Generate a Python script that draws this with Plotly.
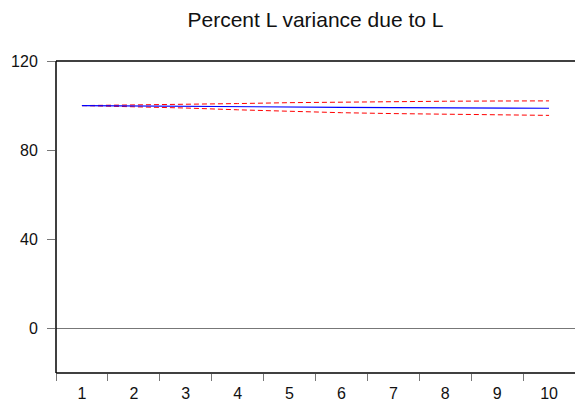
import plotly.graph_objects as go

periods = [1, 2, 3, 4, 5, 6, 7, 8, 9, 10]
point_est = [100, 99.9, 99.75, 99.55, 99.35, 99.2, 99.05, 98.95, 98.85, 98.8]
upper_band = [100, 100.2, 100.5, 100.9, 101.3, 101.6, 101.8, 101.95, 102.05, 102.1]
lower_band = [100, 99.6, 98.9, 98.1, 97.4, 96.8, 96.4, 96.1, 95.85, 95.6]
y_ticks = [0, 40, 80, 120]
title_text = "Percent L variance due to L"

fig = go.Figure()
fig.add_trace(go.Scatter(x=periods, y=upper_band, mode="lines",
                         line=dict(color="#FF0000", width=1, dash="5px,3px"), showlegend=False))
fig.add_trace(go.Scatter(x=periods, y=lower_band, mode="lines",
                         line=dict(color="#FF0000", width=1, dash="5px,3px"), showlegend=False))
fig.add_trace(go.Scatter(x=periods, y=point_est, mode="lines",
                         line=dict(color="#0000FF", width=1.2), showlegend=False))

fig.update_layout(
    width=575, height=405,
    margin=dict(l=56, r=0, t=61, b=32),
    paper_bgcolor="white", plot_bgcolor="white",
    font=dict(family="Liberation Sans, Arial, sans-serif", size=16, color="#111111"),
    title=dict(text=title_text, x=(56 + 575) / 2 / 575, xanchor="center",
               y=1 - 20 / 405, yanchor="middle", font=dict(size=21)),
    xaxis=dict(range=[0.5, 10.5], tickvals=periods, ticks="", automargin=False,
               minor=dict(tick0=0.5, dtick=1, ticks="outside", ticklen=7,
                          tickcolor="#777777", tickwidth=1, showgrid=False),
               showline=False, showgrid=False, zeroline=False, ticklabelstandoff=9),
    yaxis=dict(range=[-20, 120], tickvals=y_ticks, automargin=False,
               ticks="outside", ticklen=8, tickcolor="#777777", tickwidth=1,
               showline=False, showgrid=False, zeroline=True, zerolinecolor="#777777",
               zerolinewidth=1, ticklabelstandoff=6),
    shapes=[
        dict(type="line", xref="paper", yref="paper", x0=0, x1=1, y0=1, y1=1,
             line=dict(color="black", width=1.5)),
        dict(type="line", xref="paper", yref="paper", x0=0, x1=1, y0=0, y1=0,
             line=dict(color="black", width=1.5)),
        dict(type="line", xref="paper", yref="paper", x0=0, x1=0, y0=0, y1=1,
             line=dict(color="black", width=1.5)),
    ],
)

fig.write_html("out.html")
